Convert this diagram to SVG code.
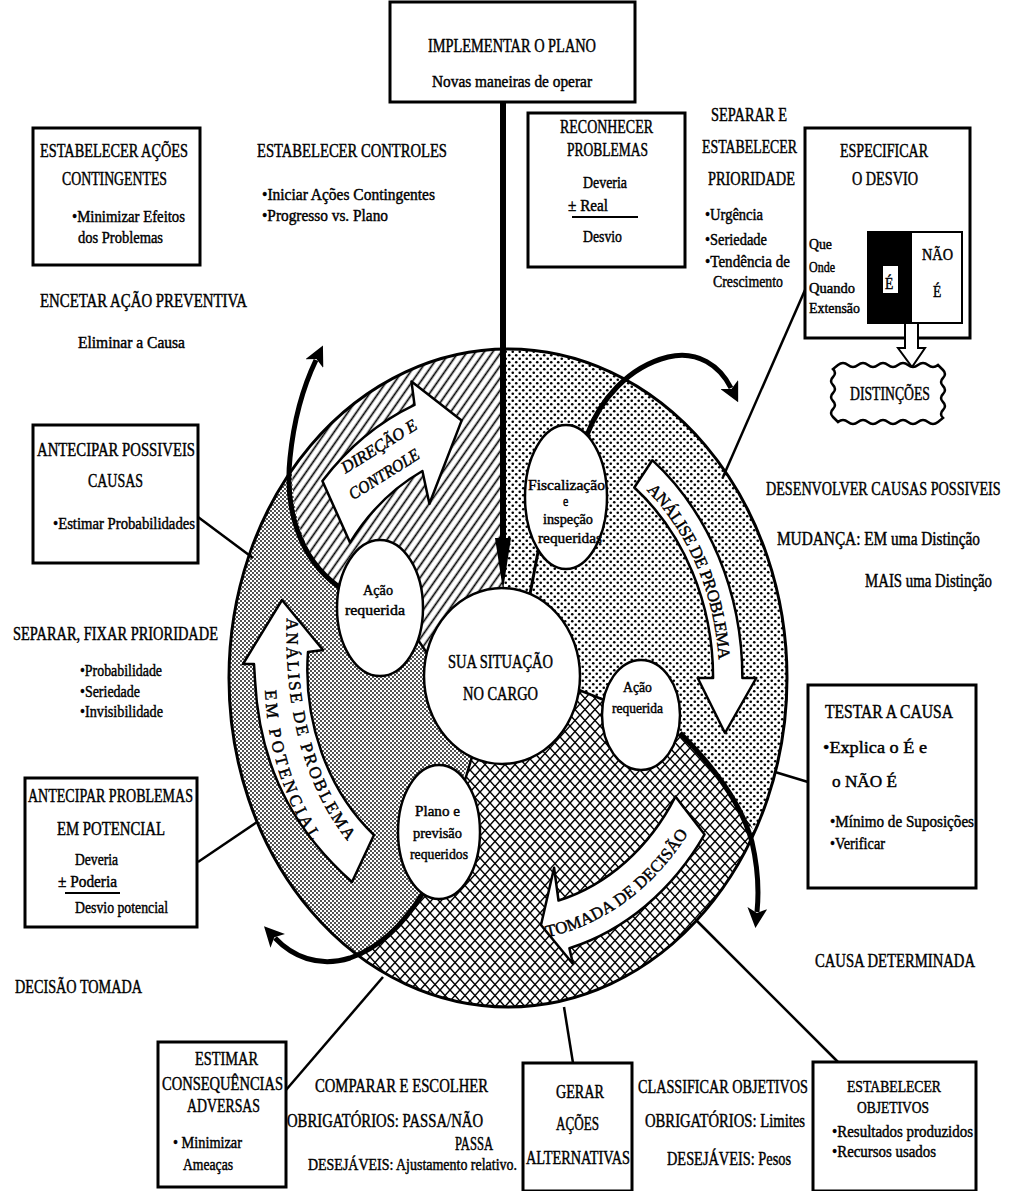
<svg xmlns="http://www.w3.org/2000/svg" xmlns:xlink="http://www.w3.org/1999/xlink" width="1012" height="1191" viewBox="0 0 1012 1191">
<defs>
<style>
text{font-family:"Liberation Serif","DejaVu Serif",serif;fill:#000;stroke:#000;stroke-width:0.45;}
.h{font-size:19px;}
.m{font-size:17px;}
.s{font-size:15px;}
.box{fill:#fff;stroke:#000;stroke-width:3;}
.ell{fill:#fff;stroke:#000;stroke-width:2.5;}
.con{fill:none;stroke:#000;stroke-width:2.5;}
.thick{fill:none;stroke:#000;stroke-width:5;marker-end:url(#ah);}
.barrow{fill:#fff;stroke:#000;stroke-width:2.5;stroke-linejoin:round;}
.bd{fill:none;stroke:#000;stroke-width:2.5;}
</style>
<pattern id="hatch" width="7" height="7" patternUnits="userSpaceOnUse" patternTransform="rotate(35)"><rect width="7" height="7" fill="#fff"/><line x1="3.5" y1="0" x2="3.5" y2="7" stroke="#000" stroke-width="1.7"/></pattern>
<pattern id="dots" width="7" height="7" patternUnits="userSpaceOnUse"><rect width="7" height="7" fill="#fff"/><circle cx="1.75" cy="1.75" r="1.3"/><circle cx="5.25" cy="5.25" r="1.3"/></pattern>
<pattern id="stip" width="4" height="4" patternUnits="userSpaceOnUse"><rect width="4" height="4" fill="#fff"/><circle cx="1" cy="1" r="0.9"/><circle cx="3" cy="3" r="0.9"/></pattern>
<pattern id="cross" width="10" height="11" patternUnits="userSpaceOnUse"><rect width="10" height="11" fill="#fff"/><path d="M0,0 L10,11 M10,0 L0,11" stroke="#000" stroke-width="1.5"/></pattern>
<marker id="ah" viewBox="0 0 10 10" refX="2" refY="5" markerWidth="4" markerHeight="4" orient="auto" markerUnits="strokeWidth"><path d="M0,0 L10,5 L0,10 L2.5,5 z" fill="#000"/></marker>
<path id="tpRight" d="M 643.8,487.2 A 211.2 249.1 0 0 1 719.1,669.3"/>
<path id="tpTomada" d="M 539.1,938.6 A 223.2 263.2 0 0 0 695.2,821.3"/>
<path id="tpLeft1" d="M 287,612 C 283,700 301,790 357,852"/>
<path id="tpLeft2" d="M 265,652 C 261,742 284,806 327,864"/>
</defs>
<rect width="1012" height="1191" fill="#fff"/>

<g id="wheel">
<path id="sector-direcao" fill="url(#hatch)" d="M 503,349 A 279 329 0 0 0 291.8,470.1 C 293,520 305,560 339,587 L 380,610 L 427,653 A 78 88 0 0 1 503,588 Z"/>
<path id="sector-analise" fill="url(#dots)" d="M 503,349 A 279 329 0 0 1 754.3,832.5 C 740,800 715,770 680,733 L 641,715 L 579,690 A 78 88 0 0 0 503,588 Z"/>
<path id="sector-tomada" fill="url(#cross)" d="M 754.3,832.5 A 279 329 0 0 1 360.2,957 C 385,940 405,915 423,893 L 439,832 L 468,772 L 472,757 A 78 88 0 0 0 579,690 L 641,715 L 680,733 C 715,770 740,800 754.3,832.5 Z"/>
<path id="sector-potencial" fill="url(#stip)" d="M 360.2,957 A 279 329 0 0 1 291.8,470.1 C 293,520 305,560 339,587 L 380,610 L 427,653 A 78 88 0 0 0 472,757 L 439,832 L 423,893 C 405,915 385,940 360.2,957 Z"/>
<ellipse cx="508" cy="678" rx="279" ry="329" fill="none" stroke="#000" stroke-width="3"/>
<line class="bd" x1="418" y1="640" x2="427" y2="653"/>
<line class="bd" x1="579" y1="690" x2="604" y2="700"/>
<line class="bd" x1="472" y1="757" x2="465" y2="780"/>
<line x1="538" y1="552" x2="530" y2="594" stroke="#000" stroke-width="3"/>
</g>

<g id="arrow-direcao">
<path class="barrow" d="M 322.4,480.9 A 249.7 294.5 0 0 1 414.5,404.9 L 411.5,381.6 L 461.6,420.6 L 429.4,503.7 L 422.4,471 A 195.3 230.3 0 0 0 350,542.6 Z"/>
<text class="m" font-size="16" font-style="italic" text-anchor="middle" transform="translate(382,451) rotate(-32) scale(0.8,1)" textLength="107.5" lengthAdjust="spacingAndGlyphs">DIREÇÃO E</text>
<text class="m" font-size="16" font-style="italic" text-anchor="middle" transform="translate(387,479) rotate(-32) scale(0.8,1)" textLength="100" lengthAdjust="spacingAndGlyphs">CONTROLE</text>
</g>
<g id="arrow-analise">
<path class="barrow" d="M 652.3,460.2 A 234.4 276.4 0 0 1 742.4,678 L 756.3,678 L 725,733 L 697.7,678 L 713.1,678 A 205.1 241.8 0 0 0 634.3,487.5 Z"/>
<text class="m"><textPath href="#tpRight" xlink:href="#tpRight" startOffset="4" textLength="188" lengthAdjust="spacing">ANÁLISE DE PROBLEMA</textPath></text>
</g>
<g id="arrow-tomada">
<path class="barrow" d="M 675.4,796.6 A 195.3 230.3 0 0 1 558.5,900.5 L 554.1,867.8 L 541,925 L 573,964 L 569.4,948.2 A 237.2 279.7 0 0 0 704.6,834.4 Z"/>
<text class="m"><textPath href="#tpTomada" xlink:href="#tpTomada" startOffset="8" textLength="180" lengthAdjust="spacing">TOMADA DE DECISÃO</textPath></text>
</g>
<g id="arrow-potencial">
<path class="barrow" d="M 352,882 C 305,840 260,780 255,680 L 254,664 L 243,664 L 282,600 L 323,650 L 308,652 C 303,720 327,790 374,835 Z"/>
<text class="m"><textPath href="#tpLeft1" xlink:href="#tpLeft1" startOffset="6" textLength="236" lengthAdjust="spacing">ANÁLISE DE PROBLEMA</textPath></text>
<text class="m"><textPath href="#tpLeft2" xlink:href="#tpLeft2" startOffset="38" textLength="160" lengthAdjust="spacing">EM POTENCIAL</textPath></text>
</g>

<g id="situacao">
<ellipse class="ell" cx="502" cy="676" rx="78" ry="88"/>
<text class="h" transform="matrix(0.8 0 0 1 448 668)" textLength="131.25" lengthAdjust="spacingAndGlyphs">SUA SITUAÇÃO</text>
<text class="h" transform="matrix(0.8 0 0 1 463 700)" textLength="93.75" lengthAdjust="spacingAndGlyphs">NO CARGO</text>
</g>
<g id="fiscalizacao">
<ellipse class="ell" cx="566" cy="497" rx="41" ry="72"/>
<text class="s" transform="matrix(0.8 0 0 1 528 490)" textLength="96.25" lengthAdjust="spacingAndGlyphs">Fiscalização</text>
<text class="s" transform="matrix(0.8 0 0 1 563 506)">e</text>
<text class="s" transform="matrix(0.8 0 0 1 543 524)" textLength="62.5" lengthAdjust="spacingAndGlyphs">inspeção</text>
<text class="s" transform="matrix(0.8 0 0 1 538 543)" textLength="80" lengthAdjust="spacingAndGlyphs">requeridas</text>
</g>
<g id="acao-esq">
<ellipse class="ell" cx="380" cy="608" rx="43" ry="68"/>
<text class="s" transform="matrix(0.8 0 0 1 363 595)" textLength="37.5" lengthAdjust="spacingAndGlyphs">Ação</text>
<text class="s" transform="matrix(0.8 0 0 1 345 615)" textLength="75" lengthAdjust="spacingAndGlyphs">requerida</text>
</g>
<g id="acao-dir">
<ellipse class="ell" cx="641" cy="715" rx="39" ry="55"/>
<text class="s" transform="matrix(0.8 0 0 1 623 692)" textLength="36.25" lengthAdjust="spacingAndGlyphs">Ação</text>
<text class="s" transform="matrix(0.8 0 0 1 612 713)" textLength="63.75" lengthAdjust="spacingAndGlyphs">requerida</text>
</g>
<g id="plano">
<ellipse class="ell" cx="439" cy="832" rx="41" ry="67"/>
<text class="s" transform="matrix(0.8 0 0 1 415 816)" textLength="56.25" lengthAdjust="spacingAndGlyphs">Plano e</text>
<text class="s" transform="matrix(0.8 0 0 1 413 838)" textLength="61.25" lengthAdjust="spacingAndGlyphs">previsão</text>
<text class="s" transform="matrix(0.8 0 0 1 410 859)" textLength="72.5" lengthAdjust="spacingAndGlyphs">requeridos</text>
</g>

<g id="connectors">
<line x1="503" y1="102" x2="503" y2="545" stroke="#000" stroke-width="6"/>
<polygon points="495,538 511,538 503,590" fill="#000"/>
<path class="thick" d="M 339,587 C 297,557 285,505 290,458 C 294,418 304,385 316,360"/>
<path class="thick" d="M 587,435 C 600,400 628,367 668,357 C 698,350 720,366 731,388"/>
<path class="thick" d="M 680,733 C 715,768 742,805 752,842 C 758,868 759,892 757,912"/>
<path class="thick" d="M 423,893 C 405,922 382,947 350,958 C 318,968 292,956 275,938"/>
<line class="con" x1="805" y1="290" x2="723" y2="477" stroke-width="2"/>
<line class="con" x1="198" y1="517" x2="253" y2="558"/>
<line class="con" x1="198" y1="862" x2="257" y2="822"/>
<line class="con" x1="286" y1="1090" x2="383" y2="977"/>
<line class="con" x1="564" y1="1007" x2="573" y2="1063"/>
<line class="con" x1="697" y1="921" x2="838" y2="1062"/>
<line class="con" x1="775" y1="772" x2="808" y2="782"/>
</g>

<g id="implementar">
<rect class="box" x="390" y="2" width="245" height="100"/>
<text class="h" transform="matrix(0.8 0 0 1 428 52)" textLength="210" lengthAdjust="spacingAndGlyphs">IMPLEMENTAR O PLANO</text>
<text class="m" transform="matrix(0.8 0 0 1 432 87)" textLength="200" lengthAdjust="spacingAndGlyphs">Novas maneiras de operar</text>
</g>
<g id="contingentes">
<rect class="box" x="33" y="128" width="167" height="137"/>
<text class="h" transform="matrix(0.8 0 0 1 40 157)" textLength="185" lengthAdjust="spacingAndGlyphs">ESTABELECER AÇÕES</text>
<text class="h" transform="matrix(0.8 0 0 1 62 185)" textLength="131.25" lengthAdjust="spacingAndGlyphs">CONTINGENTES</text>
<text class="m" transform="matrix(0.8 0 0 1 72 222)" textLength="141.25" lengthAdjust="spacingAndGlyphs">•Minimizar Efeitos</text>
<text class="m" transform="matrix(0.8 0 0 1 78 243)" textLength="106.25" lengthAdjust="spacingAndGlyphs">dos Problemas</text>
</g>
<g id="controles">
<text class="h" transform="matrix(0.8 0 0 1 257 157)" textLength="237.5" lengthAdjust="spacingAndGlyphs">ESTABELECER CONTROLES</text>
<text class="m" transform="matrix(0.8 0 0 1 262 200)" textLength="216.25" lengthAdjust="spacingAndGlyphs">•Iniciar Ações Contingentes</text>
<text class="m" transform="matrix(0.8 0 0 1 262 221)" textLength="157.5" lengthAdjust="spacingAndGlyphs">•Progresso vs. Plano</text>
</g>
<g id="preventiva">
<text class="h" transform="matrix(0.8 0 0 1 40 307)" textLength="258.75" lengthAdjust="spacingAndGlyphs">ENCETAR AÇÃO PREVENTIVA</text>
<text class="m" transform="matrix(0.8 0 0 1 78 348)" textLength="133.75" lengthAdjust="spacingAndGlyphs">Eliminar a Causa</text>
</g>
<g id="reconhecer">
<rect class="box" x="528" y="113" width="157" height="154"/>
<text class="h" transform="matrix(0.8 0 0 1 560 133)" textLength="116.25" lengthAdjust="spacingAndGlyphs">RECONHECER</text>
<text class="h" transform="matrix(0.8 0 0 1 567 156)" textLength="101.25" lengthAdjust="spacingAndGlyphs">PROBLEMAS</text>
<text class="m" transform="matrix(0.8 0 0 1 583 188)" textLength="55" lengthAdjust="spacingAndGlyphs">Deveria</text>
<text class="m" transform="matrix(0.8 0 0 1 568 211)" textLength="50" lengthAdjust="spacingAndGlyphs">± Real</text>
<line x1="572" y1="217" x2="638" y2="217" stroke="#000" stroke-width="2"/>
<text class="m" transform="matrix(0.8 0 0 1 583 242)" textLength="48.75" lengthAdjust="spacingAndGlyphs">Desvio</text>
</g>
<g id="prioridade">
<text class="h" transform="matrix(0.8 0 0 1 711 121)" textLength="95" lengthAdjust="spacingAndGlyphs">SEPARAR E</text>
<text class="h" transform="matrix(0.8 0 0 1 702 153)" textLength="118.75" lengthAdjust="spacingAndGlyphs">ESTABELECER</text>
<text class="h" transform="matrix(0.8 0 0 1 708 185)" textLength="108.75" lengthAdjust="spacingAndGlyphs">PRIORIDADE</text>
<text class="m" transform="matrix(0.8 0 0 1 705 220)" textLength="72.5" lengthAdjust="spacingAndGlyphs">•Urgência</text>
<text class="m" transform="matrix(0.8 0 0 1 705 245)" textLength="77.5" lengthAdjust="spacingAndGlyphs">•Seriedade</text>
<text class="m" transform="matrix(0.8 0 0 1 705 267)" textLength="106.25" lengthAdjust="spacingAndGlyphs">•Tendência de</text>
<text class="m" transform="matrix(0.8 0 0 1 713 287)" textLength="87.5" lengthAdjust="spacingAndGlyphs">Crescimento</text>
</g>
<g id="especificar">
<rect class="box" x="805" y="128" width="165" height="210"/>
<text class="h" transform="matrix(0.8 0 0 1 840 157)" textLength="110" lengthAdjust="spacingAndGlyphs">ESPECIFICAR</text>
<text class="h" transform="matrix(0.8 0 0 1 852 185)" textLength="82.5" lengthAdjust="spacingAndGlyphs">O DESVIO</text>
<text class="s" transform="matrix(0.8 0 0 1 809 249)" textLength="28.75" lengthAdjust="spacingAndGlyphs">Que</text>
<text class="s" transform="matrix(0.8 0 0 1 809 272)" textLength="32.5" lengthAdjust="spacingAndGlyphs">Onde</text>
<text class="s" transform="matrix(0.8 0 0 1 809 293)" textLength="57.5" lengthAdjust="spacingAndGlyphs">Quando</text>
<text class="s" transform="matrix(0.8 0 0 1 809 313)" textLength="63.75" lengthAdjust="spacingAndGlyphs">Extensão</text>
<rect x="868" y="232" width="94" height="91" fill="#fff" stroke="#000" stroke-width="2"/>
<rect x="868" y="232" width="44" height="91" fill="#000"/>
<rect x="883" y="266" width="15" height="27" fill="#fff"/>
<text class="m" transform="matrix(0.8 0 0 1 885 289)">É</text>
<text class="m" transform="matrix(0.8 0 0 1 922 260)" textLength="38.75" lengthAdjust="spacingAndGlyphs">NÃO</text>
<text class="m" transform="matrix(0.8 0 0 1 933 297)">É</text>
<polygon points="905,323 918,323 918,348 925,348 912,367 898,348 905,348" fill="#fff" stroke="#000" stroke-width="2"/>
</g>
<g id="distincoes">
<path fill="#fff" stroke="#000" stroke-width="2.5" d="M838,365 q5,-4 10,0 t10,0 t10,0 t10,0 t10,0 t10,0 t10,0 t10,0 t10,0 t10,0 L943,370 q4,4 0,8 t0,8 t0,8 t0,8 t0,8 t0,8 L938,422 q-5,4 -10,0 t-10,0 t-10,0 t-10,0 t-10,0 t-10,0 t-10,0 t-10,0 t-10,0 t-10,0 L833,417 q-4,-4 0,-8 t0,-8 t0,-8 t0,-8 t0,-8 t0,-8 Z"/>
<text class="h" transform="matrix(0.8 0 0 1 850 400)" textLength="100" lengthAdjust="spacingAndGlyphs">DISTINÇÕES</text>
</g>
<g id="possiveis-causas">
<rect class="box" x="33" y="425" width="165" height="138"/>
<text class="h" transform="matrix(0.8 0 0 1 37 456)" textLength="197.5" lengthAdjust="spacingAndGlyphs">ANTECIPAR POSSIVEIS</text>
<text class="h" transform="matrix(0.8 0 0 1 88 487)" textLength="68.75" lengthAdjust="spacingAndGlyphs">CAUSAS</text>
<text class="m" transform="matrix(0.8 0 0 1 53 529)" textLength="177.5" lengthAdjust="spacingAndGlyphs">•Estimar Probabilidades</text>
</g>
<g id="fixar-prioridade">
<text class="h" transform="matrix(0.8 0 0 1 13 640)" textLength="256.25" lengthAdjust="spacingAndGlyphs">SEPARAR, FIXAR PRIORIDADE</text>
<text class="m" transform="matrix(0.8 0 0 1 80 676)" textLength="102.5" lengthAdjust="spacingAndGlyphs">•Probabilidade</text>
<text class="m" transform="matrix(0.8 0 0 1 80 697)" textLength="75" lengthAdjust="spacingAndGlyphs">•Seriedade</text>
<text class="m" transform="matrix(0.8 0 0 1 80 717)" textLength="103.75" lengthAdjust="spacingAndGlyphs">•Invisibilidade</text>
</g>
<g id="desenvolver">
<text class="h" transform="matrix(0.72 0 0 1 766 495)" textLength="326" lengthAdjust="spacingAndGlyphs">DESENVOLVER CAUSAS POSSIVEIS</text>
<text class="h" transform="matrix(0.8 0 0 1 777 545)" textLength="253.75" lengthAdjust="spacingAndGlyphs">MUDANÇA: EM uma Distinção</text>
<text class="h" transform="matrix(0.8 0 0 1 865 587)" textLength="158.75" lengthAdjust="spacingAndGlyphs">MAIS uma Distinção</text>
</g>
<g id="testar">
<rect class="box" x="808" y="685" width="168" height="203"/>
<text class="h" transform="matrix(0.8 0 0 1 825 718)" textLength="160" lengthAdjust="spacingAndGlyphs">TESTAR A CAUSA</text>
<text class="m" transform="matrix(0.8 0 0 1 823 753)" textLength="130" lengthAdjust="spacingAndGlyphs">•Explica o É e</text>
<text class="m" transform="matrix(0.8 0 0 1 832 787)" textLength="81.25" lengthAdjust="spacingAndGlyphs">o NÃO É</text>
<text class="m" transform="matrix(0.8 0 0 1 830 827)" textLength="180" lengthAdjust="spacingAndGlyphs">•Mínimo de Suposições</text>
<text class="m" transform="matrix(0.8 0 0 1 830 849)" textLength="68.75" lengthAdjust="spacingAndGlyphs">•Verificar</text>
</g>
<g id="problemas-potencial">
<rect class="box" x="25" y="778" width="172" height="149"/>
<text class="h" transform="matrix(0.8 0 0 1 28 802)" textLength="206.25" lengthAdjust="spacingAndGlyphs">ANTECIPAR PROBLEMAS</text>
<text class="h" transform="matrix(0.8 0 0 1 57 835)" textLength="135" lengthAdjust="spacingAndGlyphs">EM POTENCIAL</text>
<text class="m" transform="matrix(0.8 0 0 1 75 865)" textLength="53.75" lengthAdjust="spacingAndGlyphs">Deveria</text>
<text class="m" transform="matrix(0.8 0 0 1 58 887)" textLength="73.75" lengthAdjust="spacingAndGlyphs">± Poderia</text>
<line x1="65" y1="893" x2="120" y2="893" stroke="#000" stroke-width="2"/>
<text class="m" transform="matrix(0.8 0 0 1 75 913)" textLength="116.25" lengthAdjust="spacingAndGlyphs">Desvio potencial</text>
</g>
<g id="decisao-tomada">
<text class="h" transform="matrix(0.8 0 0 1 15 993)" textLength="158.75" lengthAdjust="spacingAndGlyphs">DECISÃO TOMADA</text>
</g>
<g id="causa-determinada">
<text class="h" transform="matrix(0.8 0 0 1 815 967)" textLength="200" lengthAdjust="spacingAndGlyphs">CAUSA DETERMINADA</text>
</g>
<g id="estimar">
<rect class="box" x="158" y="1042" width="128" height="145"/>
<text class="h" transform="matrix(0.8 0 0 1 195 1065)" textLength="78.75" lengthAdjust="spacingAndGlyphs">ESTIMAR</text>
<text class="h" transform="matrix(0.8 0 0 1 162 1090)" textLength="151.25" lengthAdjust="spacingAndGlyphs">CONSEQUÊNCIAS</text>
<text class="h" transform="matrix(0.8 0 0 1 187 1112)" textLength="91.25" lengthAdjust="spacingAndGlyphs">ADVERSAS</text>
<text class="m" transform="matrix(0.8 0 0 1 173 1148)" textLength="86.25" lengthAdjust="spacingAndGlyphs">• Minimizar</text>
<text class="m" transform="matrix(0.8 0 0 1 183 1170)" textLength="62.5" lengthAdjust="spacingAndGlyphs">Ameaças</text>
</g>
<g id="comparar">
<text class="h" transform="matrix(0.8 0 0 1 315 1092)" textLength="216.25" lengthAdjust="spacingAndGlyphs">COMPARAR E ESCOLHER</text>
<text class="h" transform="matrix(0.8 0 0 1 287 1127)" textLength="245" lengthAdjust="spacingAndGlyphs">OBRIGATÓRIOS: PASSA/NÃO</text>
<text class="h" transform="matrix(0.8 0 0 1 455 1150)" textLength="47.5" lengthAdjust="spacingAndGlyphs">PASSA</text>
<text class="m" transform="matrix(0.8 0 0 1 308 1170)" textLength="261.25" lengthAdjust="spacingAndGlyphs">DESEJÁVEIS: Ajustamento relativo.</text>
</g>
<g id="gerar">
<rect class="box" x="523" y="1063" width="109" height="128"/>
<text class="h" transform="matrix(0.8 0 0 1 556 1098)" textLength="60" lengthAdjust="spacingAndGlyphs">GERAR</text>
<text class="h" transform="matrix(0.8 0 0 1 556 1130)" textLength="53.75" lengthAdjust="spacingAndGlyphs">AÇÕES</text>
<text class="h" transform="matrix(0.8 0 0 1 526 1164)" textLength="130" lengthAdjust="spacingAndGlyphs">ALTERNATIVAS</text>
</g>
<g id="classificar">
<text class="h" transform="matrix(0.8 0 0 1 638 1093)" textLength="212.5" lengthAdjust="spacingAndGlyphs">CLASSIFICAR OBJETIVOS</text>
<text class="h" transform="matrix(0.8 0 0 1 645 1127)" textLength="200" lengthAdjust="spacingAndGlyphs">OBRIGATÓRIOS: Limites</text>
<text class="h" transform="matrix(0.8 0 0 1 667 1165)" textLength="155" lengthAdjust="spacingAndGlyphs">DESEJÁVEIS: Pesos</text>
</g>
<g id="objetivos">
<rect class="box" x="813" y="1062" width="163" height="129"/>
<text class="m" transform="matrix(0.8 0 0 1 847 1092)" textLength="117.5" lengthAdjust="spacingAndGlyphs">ESTABELECER</text>
<text class="m" transform="matrix(0.8 0 0 1 857 1113)" textLength="90" lengthAdjust="spacingAndGlyphs">OBJETIVOS</text>
<text class="m" transform="matrix(0.8 0 0 1 832 1137)" textLength="176.25" lengthAdjust="spacingAndGlyphs">•Resultados produzidos</text>
<text class="m" transform="matrix(0.8 0 0 1 832 1157)" textLength="130" lengthAdjust="spacingAndGlyphs">•Recursos usados</text>
</g>
</svg>
